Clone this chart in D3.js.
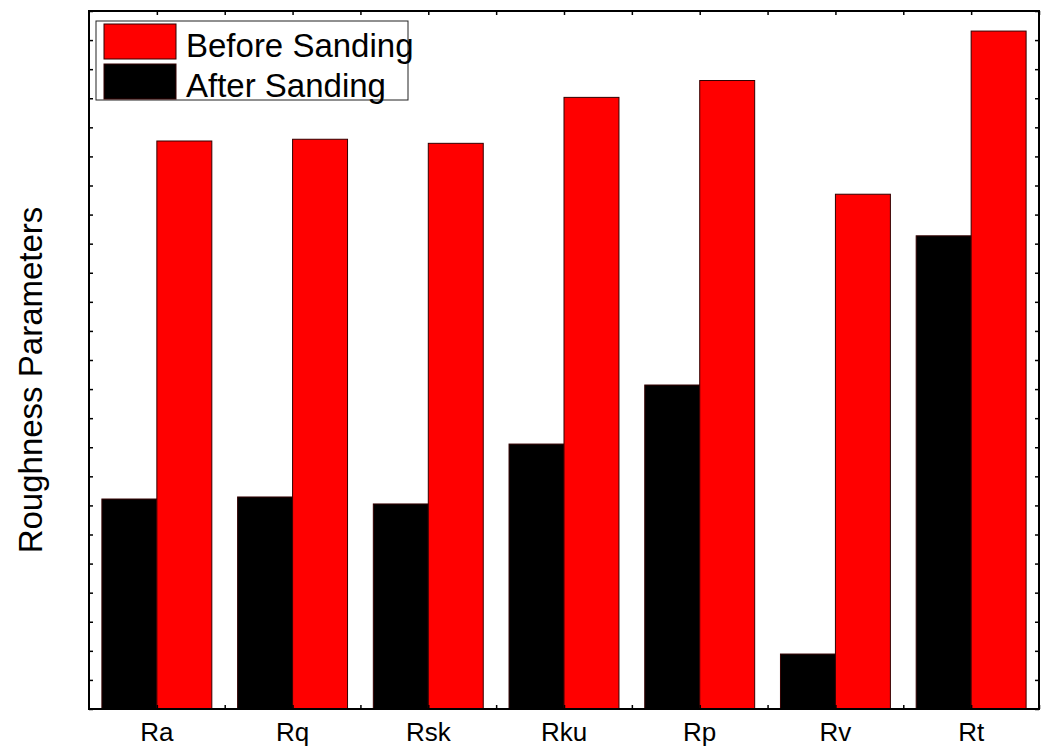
<!DOCTYPE html>
<html>
<head>
<meta charset="utf-8">
<script src="https://cdn.jsdelivr.net/npm/d3@7"></script>
<style>
  html, body { margin: 0; padding: 0; background: #fff; }
  svg { display: block; }
  text { font-family: "Liberation Sans", Arial, sans-serif; }
</style>
</head>
<body>
<svg id="chart" width="1049" height="749"></svg>
<script>
// Roughness parameters (arbitrary units) before and after sanding
const categories = ["Ra", "Rq", "Rsk", "Rku", "Rp", "Rv", "Rt"];
const seriesNames = ["After Sanding", "Before Sanding"];
const afterSanding  = [7.22, 7.29, 7.05, 9.11, 11.14, 1.89, 16.27];
const beforeSanding = [19.53, 19.59, 19.45, 21.03, 21.61, 17.70, 23.31];
const yMax = 24;

const seriesColors = { "After Sanding": "#000000", "Before Sanding": "#ff0000" };

const svg = d3.select("#chart");
const plot = { left: 89, right: 1039, top: 11, bottom: 709 };

const x = d3.scaleBand()
  .domain(categories)
  .range([plot.left, plot.right])
  .paddingInner(0.19)
  .paddingOuter(0.095);

const xSub = d3.scaleBand()
  .domain(seriesNames)
  .range([0, x.bandwidth()]);

const y = d3.scaleLinear().domain([0, yMax]).range([plot.bottom, plot.top]);

// index scale used for the minor/major tick marks on top and bottom
const xIdx = d3.scaleLinear()
  .domain([-0.5, categories.length - 0.5])
  .range([plot.left, plot.right]);
const idxTicks = d3.range(0, categories.length - 0.5 + 1e-9, 0.5);

const rows = categories.map((c, i) => ({
  cat: c,
  values: [
    { series: "After Sanding", value: afterSanding[i] },
    { series: "Before Sanding", value: beforeSanding[i] }
  ]
}));

// bars
const groups = svg.append("g").selectAll("g")
  .data(rows)
  .join("g")
  .attr("transform", d => `translate(${x(d.cat)},0)`);

groups.selectAll("rect")
  .data(d => d.values)
  .join("rect")
  .attr("x", d => xSub(d.series))
  .attr("width", xSub.bandwidth())
  .attr("y", d => y(d.value))
  .attr("height", d => y(0) - y(d.value))
  .attr("fill", d => seriesColors[d.series])
  .attr("stroke", "#330000")
  .attr("stroke-width", 1);

// tick marks (inward) on all four sides
const tickLen = 4;
const yTicks = d3.range(0, yMax + 1);

svg.append("g")
  .attr("transform", `translate(${plot.left},0)`)
  .call(d3.axisRight(y).tickValues(yTicks).tickSize(tickLen).tickFormat(""))
  .call(g => g.select(".domain").remove());

svg.append("g")
  .attr("transform", `translate(${plot.right},0)`)
  .call(d3.axisLeft(y).tickValues(yTicks).tickSize(tickLen).tickFormat(""))
  .call(g => g.select(".domain").remove());

svg.append("g")
  .attr("transform", `translate(0,${plot.top})`)
  .call(d3.axisBottom(xIdx).tickValues(idxTicks).tickSize(tickLen).tickFormat(""))
  .call(g => g.select(".domain").remove());

svg.append("g")
  .attr("transform", `translate(0,${plot.bottom})`)
  .call(d3.axisTop(xIdx).tickValues(idxTicks).tickSize(tickLen).tickFormat(""))
  .call(g => g.select(".domain").remove());

svg.selectAll(".tick line").attr("stroke", "#000").attr("stroke-width", 1.5);

// category labels
svg.append("g")
  .attr("transform", `translate(0,${plot.bottom})`)
  .call(d3.axisBottom(x).tickSize(0).tickPadding(14))
  .call(g => g.select(".domain").remove())
  .call(g => g.selectAll("text")
    .attr("font-size", 26)
    .attr("fill", "#000")
    .style("font-family", "'Liberation Sans', Arial, sans-serif"));

// frame
svg.append("rect")
  .attr("x", plot.left)
  .attr("y", plot.top)
  .attr("width", plot.right - plot.left)
  .attr("height", plot.bottom - plot.top)
  .attr("fill", "none")
  .attr("stroke", "#000")
  .attr("stroke-width", 2);

// y axis title
svg.append("text")
  .attr("transform", `translate(42,${(plot.top + plot.bottom) / 2 + 20}) rotate(-90)`)
  .attr("text-anchor", "middle")
  .attr("font-size", 33)
  .attr("fill", "#000")
  .text("Roughness Parameters");

// legend
const legend = svg.append("g").attr("transform", "translate(96,21)");
legend.append("rect")
  .attr("width", 312).attr("height", 79)
  .attr("fill", "#fff")
  .attr("stroke", "#222").attr("stroke-width", 1);

const legendItems = ["Before Sanding", "After Sanding"];
const li = legend.selectAll("g.item")
  .data(legendItems)
  .join("g")
  .attr("class", "item")
  .attr("transform", (d, i) => `translate(8,${3 + i * 40})`);

li.append("rect")
  .attr("width", 72).attr("height", 35)
  .attr("fill", d => seriesColors[d])
  .attr("stroke", "#330000").attr("stroke-width", 1);

li.append("text")
  .attr("x", 82)
  .attr("y", 33)
  .attr("font-size", 33)
  .attr("fill", "#000")
  .text(d => d);
</script>
</body>
</html>
